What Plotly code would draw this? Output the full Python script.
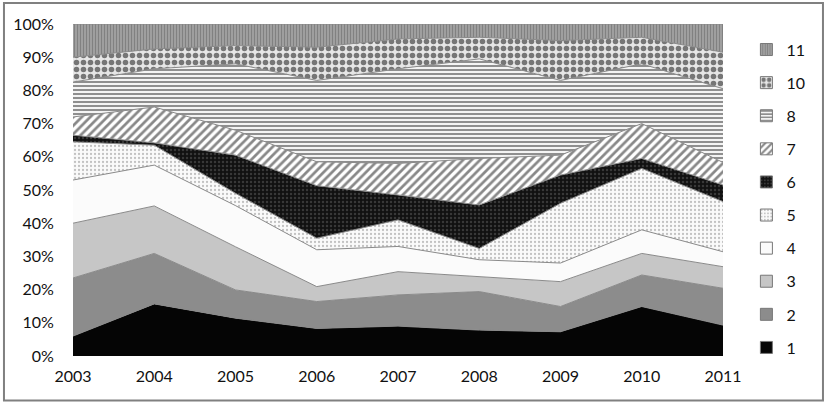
import plotly.graph_objects as go

years = [2003, 2004, 2005, 2006, 2007, 2008, 2009, 2010, 2011]
pct_ticks = list(range(0, 101, 10))
pct_labels = [f"{v}%" for v in pct_ticks]

# share of each group per year (%)
s1 = [6.0, 15.7, 11.4, 8.3, 9.0, 7.8, 7.3, 14.9, 9.3]
s2 = [17.5, 15.2, 8.5, 8.1, 9.4, 11.6, 7.6, 9.5, 11.1]
s3 = [16.5, 14.3, 13.0, 4.5, 7.0, 4.6, 7.5, 6.5, 6.5]
s4 = [13.0, 12.3, 12.4, 11.1, 7.6, 5.0, 5.6, 7.1, 4.5]
s5 = [11.5, 6.0, 3.7, 3.5, 8.0, 3.4, 18.0, 18.5, 15.1]
s6 = [2.0, 0.7, 11.5, 15.8, 7.5, 13.1, 8.5, 3.0, 5.0]
s7 = [5.5, 10.8, 7.5, 7.2, 9.5, 14.0, 6.0, 10.5, 6.8]
s8 = [10.5, 11.5, 20.0, 24.5, 28.5, 30.0, 22.5, 18.0, 22.2]
s10 = [7.5, 6.0, 5.5, 10.0, 9.0, 6.5, 12.0, 8.0, 11.0]
s11 = [10.0, 7.5, 6.5, 7.0, 4.5, 4.0, 5.0, 4.0, 8.5]

series = [
    ("1", s1, "#050505", None),
    ("2", s2, "#8c8c8c", None),
    ("3", s3, "#c6c6c6", None),
    ("4", s4, "#fbfbfb", None),
    ("5", s5, "#fafafa", dict(shape=".", fgcolor="#8a8a8a", bgcolor="#fafafa", size=4, solidity=0.25)),
    ("6", s6, "#1a1a1a", dict(shape=".", fgcolor="#5e5e5e", bgcolor="#111111", size=4, solidity=0.3)),
    ("7", s7, "#ffffff", dict(shape="/", fgcolor="#111111", bgcolor="#ffffff", size=6, solidity=0.45)),
    ("8", s8, "#ffffff", dict(shape="-", fgcolor="#2a2a2a", bgcolor="#f4f4f4", size=4, solidity=0.5)),
    ("10", s10, "#aaaaaa", dict(shape=".", fgcolor="#050505", bgcolor="#e6e6e6", size=7, solidity=0.5)),
    ("11", s11, "#8a8a8a", dict(shape="|", fgcolor="#5a5a5a", bgcolor="#a8a8a8", size=3, solidity=0.5)),
]

fig = go.Figure()
for i, (name, vals, color, pattern) in enumerate(series):
    fig.add_trace(go.Scatter(
        x=years,
        y=vals,
        name=name,
        mode="lines",
        stackgroup="one",
        groupnorm="percent",
        showlegend=False,
        line=dict(color="#8a8a8a", width=1),
        fillcolor=color,
        fillpattern=pattern,
        hoverinfo="x+y+name",
    ))
    # square legend key
    fig.add_trace(go.Bar(
        x=[None],
        y=[None],
        name=name,
        legendgroup=name,
        legendrank=100 - i,
        marker=dict(color=color, pattern=pattern, line=dict(color="#777777", width=1)),
        hoverinfo="skip",
    ))

# outer frame of the chart
fig.add_shape(type="rect", xref="paper", yref="paper",
              x0=-0.1062, x1=1.1538, y0=-0.1340, y1=1.0633,
              line=dict(color="#808080", width=2), layer="above")

fig.update_layout(
    width=828,
    height=406,
    margin=dict(l=73, r=105, t=24, b=50),
    paper_bgcolor="white",
    plot_bgcolor="white",
    font=dict(family="Lato, Liberation Sans, sans-serif", size=16, color="#111111"),
    showlegend=True,
    legend=dict(
        x=1.036, y=0.974, xanchor="left", yanchor="top",
        traceorder="grouped",
        tracegroupgap=9.3,
        font=dict(size=16),
        itemwidth=30,
        bgcolor="rgba(0,0,0,0)",
    ),
    xaxis=dict(
        range=[2003, 2011],
        tickvals=years,
        showgrid=False,
        zeroline=False,
        showline=False,
        ticks="outside", ticklen=6, tickcolor="rgba(0,0,0,0)",
    ),
    yaxis=dict(
        range=[0, 100],
        tickvals=pct_ticks,
        ticktext=pct_labels,
        showgrid=False,
        zeroline=False,
        showline=False,
        ticks="outside", ticklen=15, tickcolor="rgba(0,0,0,0)",
    ),
)

# drop the page's default body margin so the figure sits at the window corner
fig.write_html("out.html", config={"displayModeBar": False},
               post_script="document.body.style.margin = '0';")
